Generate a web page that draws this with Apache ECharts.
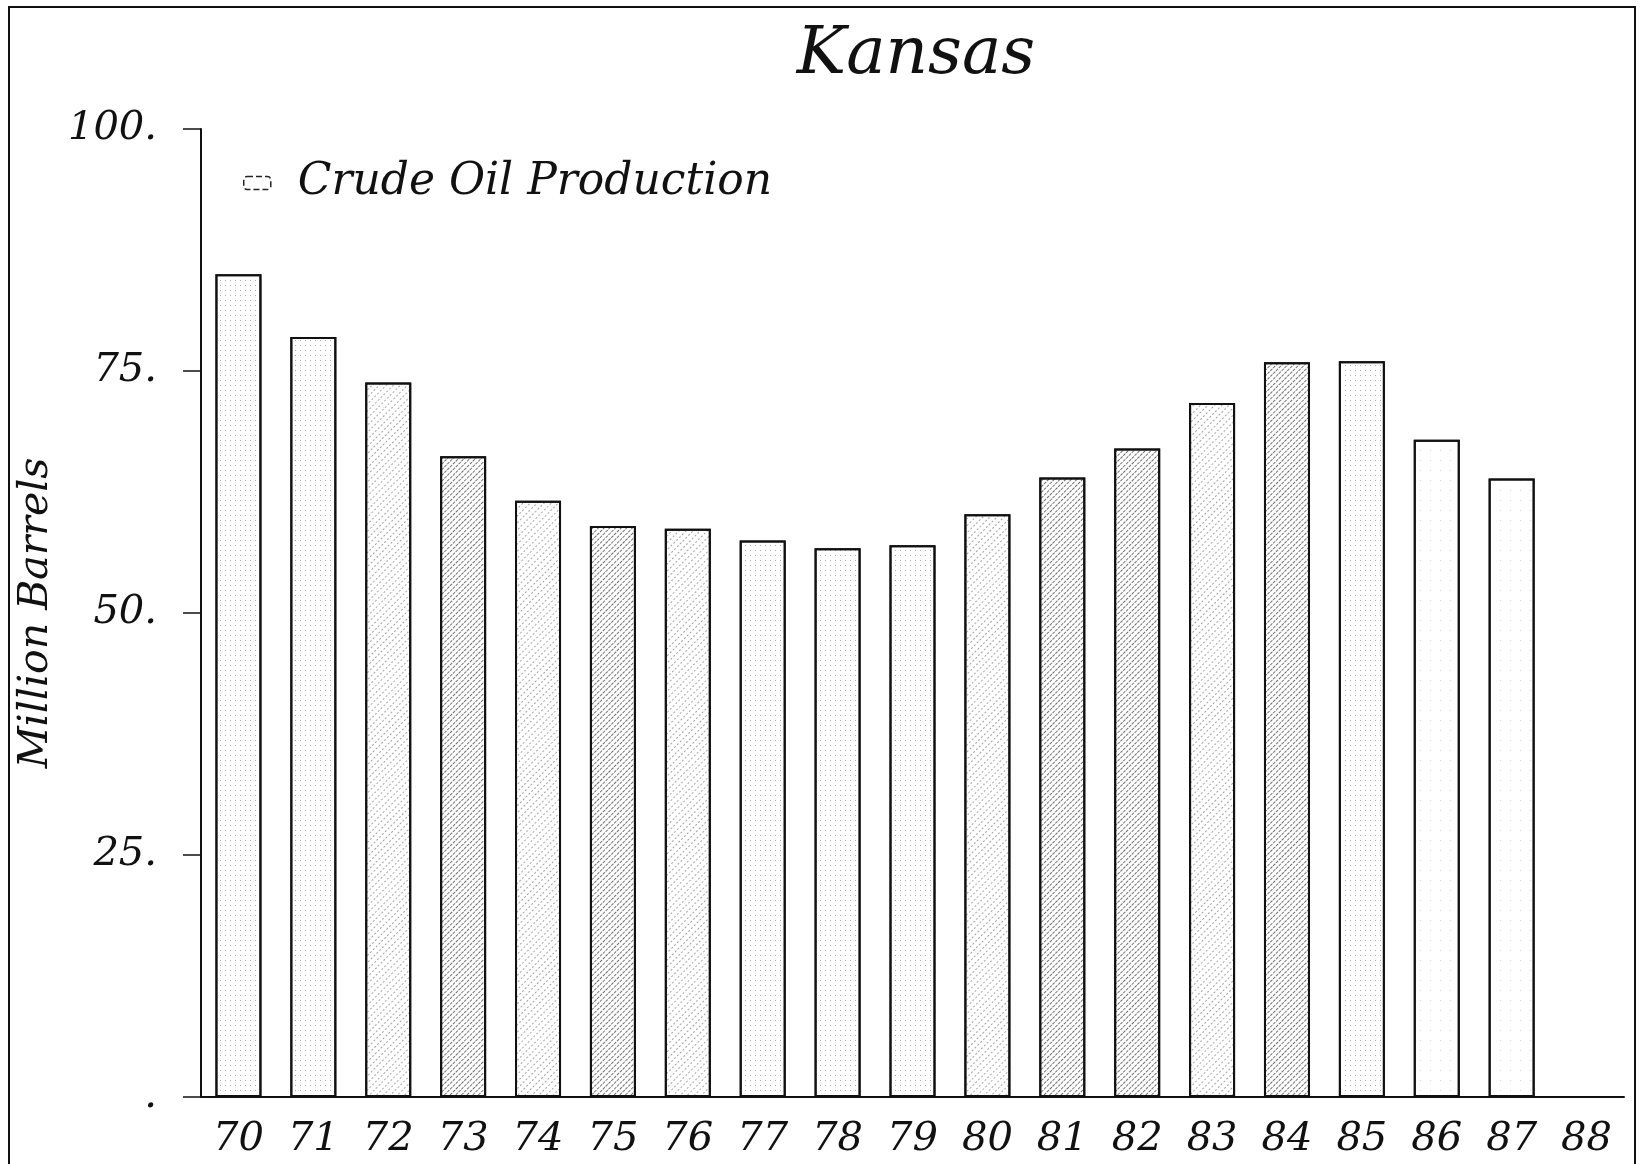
<!DOCTYPE html>
<html>
<head>
<meta charset="utf-8">
<title>Kansas</title>
<script src="https://cdn.jsdelivr.net/npm/echarts@6/dist/echarts.min.js"></script>
<style>
  html, body { margin: 0; padding: 0; background: #fff; }
  #wrap { position: relative; width: 1642px; height: 1164px; overflow: hidden; }
  #echartContainer { width: 1642px; height: 1164px; }
  #frame {
    position: absolute; left: 8px; top: 6px; width: 1624px; height: 1200px;
    border: 2px solid #111; border-bottom: none; pointer-events: none;
  }
</style>
</head>
<body>
<div id="wrap">
  <div id="echartContainer"></div>
  <div id="frame"></div>
</div>
<script>
var years = ['70', '71', '72', '73', '74', '75', '76', '77', '78', '79', '80', '81', '82', '83', '84', '85', '86', '87', '88']
// million barrels, 1988 has no bar
var production = [85.0, 78.5, 73.8, 66.2, 61.6, 59.0, 58.7, 57.5, 56.7, 57.0, 60.2, 64.0, 67.0, 71.7, 75.9, 76.0, 67.9, 63.9]
var yTicks = [0, 25, 50, 75, 100]

// fill look of each bar
var shade = ['dots', 'dots', 'hatch', 'hatchDark', 'hatch', 'hatchDark', 'hatch', 'dots', 'dots', 'dots',
  'hatch', 'hatchDark', 'hatchDark', 'hatch', 'hatchDark', 'dots', 'plain', 'plain']

var font = 'DejaVu Serif'

var decals = {
  dots: {
    symbol: 'rect', symbolSize: 1, color: 'rgba(0,0,0,0.32)',
    dashArrayX: [1, 4], dashArrayY: [1, 4], rotation: 0
  },
  hatch: {
    symbol: 'rect', symbolSize: 1, color: 'rgba(0,0,0,0.35)',
    dashArrayX: [2, 2], dashArrayY: [1, 4], rotation: -Math.PI / 4
  },
  hatchDark: {
    symbol: 'rect', symbolSize: 1, color: 'rgba(0,0,0,0.55)',
    dashArrayX: [3, 1], dashArrayY: [1, 3], rotation: -Math.PI / 4
  },
  plain: {
    symbol: 'rect', symbolSize: 1, color: 'rgba(0,0,0,0.15)',
    dashArrayX: [1, 9], dashArrayY: [1, 9], rotation: 0
  }
}

var barData = production.map(function (v, i) {
  return {
    value: v,
    itemStyle: { decal: decals[shade[i]] }
  }
})

var chart = echarts.init(document.getElementById('echartContainer'))
chart.setOption({
  backgroundColor: '#fff',
  animation: false,
  title: {
    text: 'Kansas',
    left: 911,
    top: 18,
    textAlign: 'center',
    textStyle: {
      fontFamily: font,
      fontStyle: 'italic',
      fontWeight: 'normal',
      fontSize: 66,
      color: '#111'
    }
  },
  legend: {
    left: 238,
    top: 155,
    itemWidth: 27,
    itemHeight: 13,
    data: ['Crude Oil Production'],
    itemStyle: {
      color: '#fff',
      borderColor: '#222',
      borderWidth: 1.5,
      borderType: 'dashed',
      decal: 'none'
    },
    textStyle: {
      fontFamily: font,
      fontStyle: 'italic',
      fontSize: 44,
      lineHeight: 46,
      color: '#111',
      padding: [0, 0, 0, 22]
    }
  },
  grid: {
    left: 201,
    right: 18,
    top: 129,
    bottom: 67,
    containLabel: false
  },
  xAxis: {
    type: 'category',
    data: years,
    axisLine: { lineStyle: { color: '#111', width: 2 } },
    axisTick: { show: false },
    axisLabel: {
      margin: 23,
      fontFamily: font,
      fontStyle: 'italic',
      fontSize: 40,
      color: '#111'
    }
  },
  yAxis: {
    type: 'value',
    min: yTicks[0],
    max: yTicks[yTicks.length - 1],
    interval: 25,
    name: 'Million Barrels',
    nameLocation: 'middle',
    nameGap: 144,
    nameTextStyle: {
      fontFamily: font,
      fontStyle: 'italic',
      fontSize: 41,
      color: '#111'
    },
    splitLine: { show: false },
    axisLine: { show: true, lineStyle: { color: '#111', width: 2 } },
    axisTick: { show: true, length: 18, lineStyle: { color: '#111', width: 1.5 } },
    axisLabel: {
      margin: 44,
      fontFamily: font,
      fontStyle: 'italic',
      fontSize: 40,
      color: '#111',
      formatter: function (v) {
        return v === 0 ? '.' : v + '.'
      }
    }
  },
  series: [{
    name: 'Crude Oil Production',
    type: 'bar',
    barWidth: 46,
    data: barData,
    itemStyle: {
      color: '#fff',
      borderColor: '#111',
      borderWidth: 2
    }
  }]
})
</script>
</body>
</html>
